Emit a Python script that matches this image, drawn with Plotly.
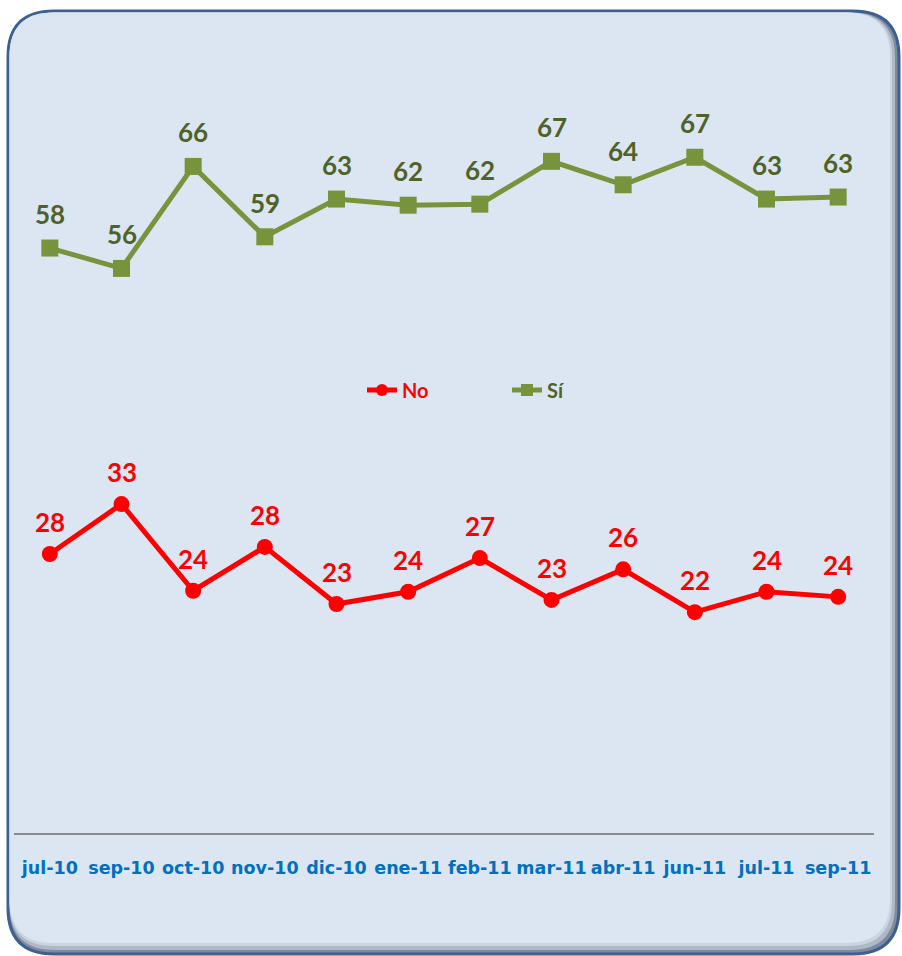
import plotly.graph_objects as go

# ---- data ----
categories = ["jul-10", "sep-10", "oct-10", "nov-10", "dic-10", "ene-11",
              "feb-11", "mar-11", "abr-11", "jun-11", "jul-11", "sep-11"]
si_values = [58.1, 56.1, 66.1, 59.2, 62.9, 62.3, 62.4, 66.6, 64.3, 67.0, 62.9, 63.1]
si_labels = ["58", "56", "66", "59", "63", "62", "62", "67", "64", "67", "63", "63"]
no_values = [28.1, 33.0, 24.5, 28.8, 23.2, 24.4, 27.7, 23.6, 26.6, 22.4, 24.4, 23.9]
no_labels = ["28", "33", "24", "28", "23", "24", "27", "23", "26", "22", "24", "24"]

# ---- layout geometry (page pixels) ----
W, H = 902, 956
L, R, T = 14, 28, 30
BOTTOM = 833            # axis line position
B = H - BOTTOM
PW, PH = W - L - R, H - T - B

def px(x):
    return (x - L) / PW

def py(y):
    return (BOTTOM - y) / PH

def rrect(x0, y0, x1, y1, r):
    p = lambda x, y: f"{px(x):.5f},{py(y):.5f}"
    return (f"M {p(x0 + r, y0)} L {p(x1 - r, y0)} Q {p(x1, y0)} {p(x1, y0 + r)} "
            f"L {p(x1, y1 - r)} Q {p(x1, y1)} {p(x1 - r, y1)} "
            f"L {p(x0 + r, y1)} Q {p(x0, y1)} {p(x0, y1 - r)} "
            f"L {p(x0, y0 + r)} Q {p(x0, y0)} {p(x0 + r, y0)} Z")

GREEN = "#77933c"
GREEN_TXT = "#4f6228"
RED = "#ff0000"
BG = "#dce6f2"

fig = go.Figure()
fig.add_trace(go.Scatter(
    x=categories, y=no_values, mode="lines+markers",
    name="<b><span style='color:#ff0000'>No</span></b>",
    line=dict(color=RED, width=5),
    marker=dict(symbol="circle", size=16, color=RED),
))
fig.add_trace(go.Scatter(
    x=categories, y=si_values, mode="lines+markers",
    name="<b><span style='color:#4f6228'>Sí</span></b>",
    line=dict(color=GREEN, width=5),
    marker=dict(symbol="square", size=17, color=GREEN),
))

annotations = []
for c, v, t in zip(categories, si_values, si_labels):
    annotations.append(dict(x=c, y=v, text=t, showarrow=False, yshift=34,
                            font=dict(family="Lato", size=26, color=GREEN_TXT, weight="bold")))
for c, v, t in zip(categories, no_values, no_labels):
    annotations.append(dict(x=c, y=v, text=t, showarrow=False, yshift=32,
                            font=dict(family="Lato", size=26, color=RED, weight="bold")))

shapes = [
    dict(type="path", xref="paper", yref="paper", layer="below",
         path=rrect(8, 11, 899, 954, 46), fillcolor="#7f8b9c",
         line=dict(color="#3b6091", width=3)),
    dict(type="path", xref="paper", yref="paper", layer="below",
         path=rrect(9.5, 12.5, 895, 950, 45), fillcolor="#aeb8c6",
         line=dict(width=0)),
    dict(type="path", xref="paper", yref="paper", layer="below",
         path=rrect(9.5, 12.5, 892, 946, 44), fillcolor="#cbd5e2",
         line=dict(width=0)),
    dict(type="path", xref="paper", yref="paper", layer="below",
         path=rrect(9.5, 12.5, 890, 943, 44), fillcolor=BG,
         line=dict(width=0)),
]

fig.update_layout(
    width=W, height=H,
    margin=dict(l=L, r=R, t=T, b=B),
    paper_bgcolor="white",
    plot_bgcolor="rgba(0,0,0,0)",
    showlegend=True,
    legend=dict(orientation="h", x=px(362), xanchor="left", y=py(390), yanchor="middle",
                bgcolor="rgba(0,0,0,0)", entrywidth=100, entrywidthmode="pixels",
                itemsizing="constant",
                font=dict(family="Lato", size=20)),
    annotations=annotations,
    shapes=shapes,
    xaxis=dict(type="category", range=[-0.5, 11.5], showgrid=False, zeroline=False,
               showline=True, linecolor="#8c8c8c", linewidth=2,
               ticks="", ticklabelstandoff=18,
               tickfont=dict(family="DejaVu Sans", size=17.5, color="#0070c0", weight="bold")),
    yaxis=dict(range=[0.75, 0.75 + PH / 10.2], showgrid=False, zeroline=False,
               showline=False, showticklabels=False),
)

fig.write_html("out.html", config={"displayModeBar": False},
               post_script="document.body.style.margin='0';document.body.style.overflow='hidden';")
